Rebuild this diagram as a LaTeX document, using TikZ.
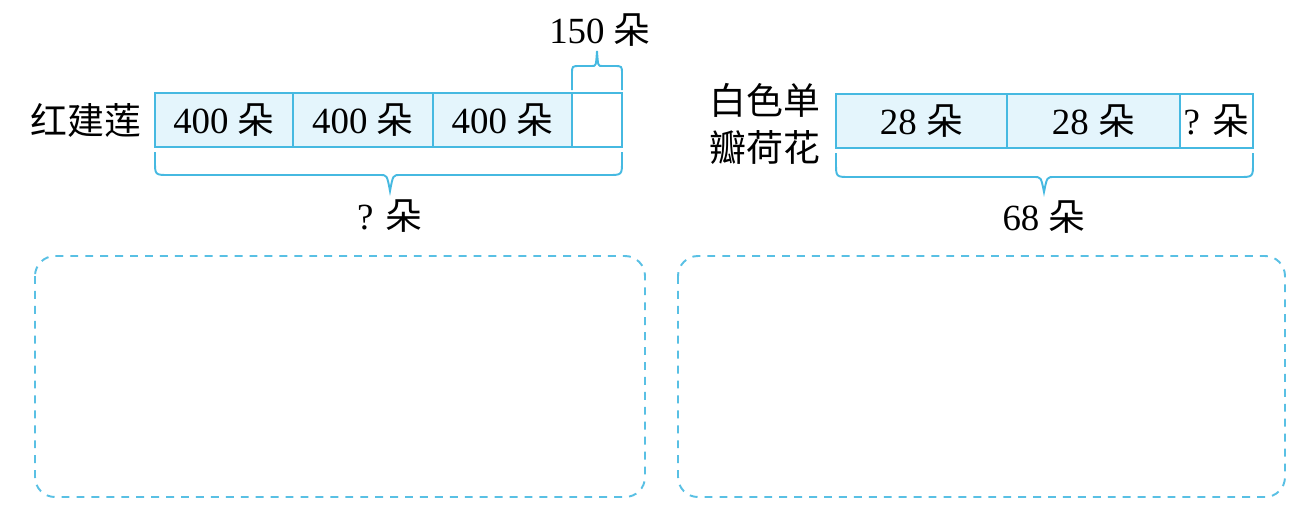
\documentclass[tikz,border=0pt]{standalone}
\usepackage{fontspec}
\setmainfont{Liberation Serif}
\newfontfamily\cjk{Noto Sans CJK SC}
\usetikzlibrary{positioning}
\definecolor{barblue}{RGB}{70,185,225}
\definecolor{barfill}{RGB}{228,245,252}
\newcommand{\duo}{{\cjk 朵}}
\tikzset{
  cell/.style={draw=barblue,line width=1.1pt,fill=barfill,outer sep=0pt,inner sep=0pt,
    minimum height=1.08cm},
  blank/.style={cell,fill=white},
  brace/.style={draw=barblue,line width=1.1pt},
  answer/.style={draw=barblue!90,line width=1.1pt,dash pattern=on 4.5pt off 4pt,rounded corners=0.4cm},
  txt/.style={inner sep=0pt,font=\fontsize{21}{24}\selectfont},
  lbl/.style={txt,font=\cjk\fontsize{21}{27}\selectfont,align=right}
}
\begin{document}
\begin{tikzpicture}[x=0.02cm,y=-0.02cm,every node/.append style={font=\fontsize{21}{24}\selectfont}]
\useasboundingbox (0,0) rectangle (1295,512);
% red lotus
\node[lbl] (hjl) at (86,120) {红建莲};
\node[cell,minimum width=2.76cm,anchor=north west] (a1) at (155,93) {400 \duo};
\node[cell,minimum width=2.8cm,right=0pt of a1] (a2) {400 \duo};
\node[cell,minimum width=2.78cm,right=0pt of a2] (a3) {400 \duo};
\node[blank,minimum width=1.0cm,right=0pt of a3] (a4) {};
\draw[brace] (572,90) -- (572,74) .. controls (572,66) .. (580,66) -- (592,66)
  .. controls (596,66) .. (597,51) .. controls (598,66) .. (602,66) -- (614,66)
  .. controls (622,66) .. (622,74) -- (622,90);
\node[txt] (extra) at (600,30) {150 \duo};
\draw[brace] (155,152) -- (155,161) .. controls (155,175) .. (169,175) -- (380,175)
  .. controls (387,175) .. (390,191) .. controls (393,175) .. (400,175) -- (608,175)
  .. controls (622,175) .. (622,161) -- (622,152);
\node[txt] (sumL) at (390,216) {? \duo};
% white lotus
\node[lbl] (bsd) at (765,124) {白色单\\瓣荷花};
\node[cell,minimum width=3.42cm,anchor=north west] (b1) at (836,94) {28 \duo};
\node[cell,minimum width=3.46cm,right=0pt of b1] (b2) {28 \duo};
\node[blank,minimum width=1.46cm,right=0pt of b2] (b3) {? \duo};
\draw[brace] (836,153) -- (836,163) .. controls (836,177) .. (850,177) -- (1034,177)
  .. controls (1041,177) .. (1044,192) .. controls (1047,177) .. (1054,177) -- (1239,177)
  .. controls (1253,177) .. (1253,163) -- (1253,153);
\node[txt] (sumR) at (1044,217) {68 \duo};
% answer boxes
\draw[answer] (35,256) rectangle (645,497);
\draw[answer] (678,256) rectangle (1285,497);
\end{tikzpicture}
\end{document}
